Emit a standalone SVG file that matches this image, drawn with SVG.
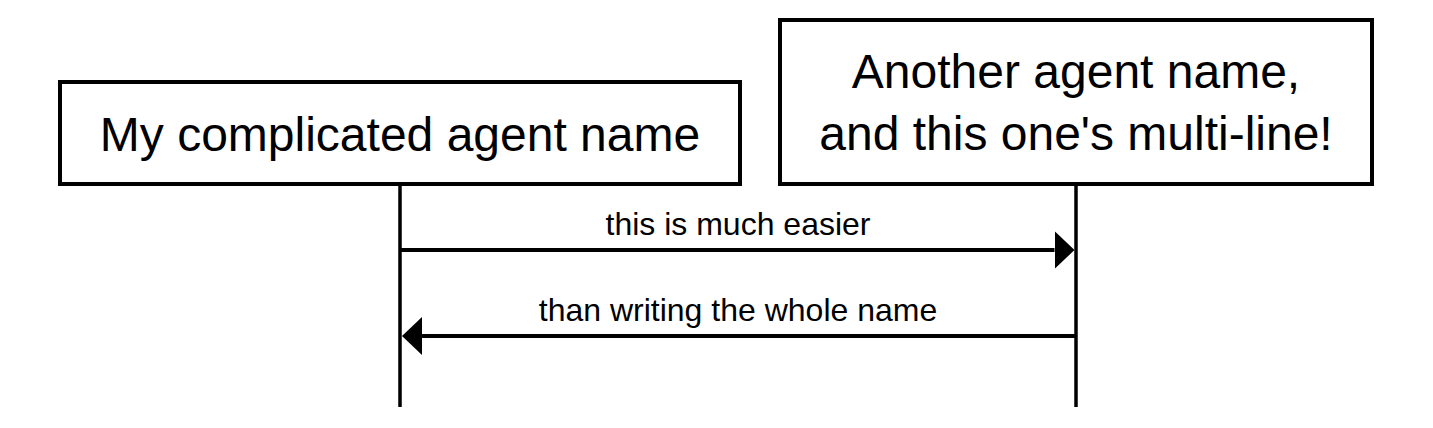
<svg xmlns="http://www.w3.org/2000/svg" width="1433" height="428" viewBox="0 0 1433 428">
<style>
  .box { fill: #fff; stroke: #000; stroke-width: 4; }
  .life { stroke: #000; stroke-width: 3.5; fill: none; }
  .msg { stroke: #000; stroke-width: 4; fill: none; }
  .agent { font-family: "Liberation Sans", Arial, Helvetica, sans-serif; font-size: 48px; fill: #000; text-anchor: middle; }
  .label { font-family: "Liberation Sans", Arial, Helvetica, sans-serif; font-size: 32px; fill: #000; text-anchor: middle; }
</style>
<defs>
  <marker id="head" markerUnits="userSpaceOnUse" markerWidth="20" markerHeight="38" refX="0" refY="19" orient="auto" viewBox="0 0 20 38">
    <path d="M0,0 L20,19 L0,38 Z" fill="#000"/>
  </marker>
</defs>
<rect width="1433" height="428" fill="#fff"/>
<g id="connectors">
  <line class="life" x1="400" y1="184" x2="400" y2="407"/>
  <line class="life" x1="1076" y1="184" x2="1076" y2="407"/>
  <line class="msg" x1="400" y1="250" x2="1054.5" y2="250" marker-end="url(#head)"/>
  <text class="label" x="738" y="235">this is much easier</text>
  <line class="msg" x1="1076" y1="336" x2="422" y2="336" marker-end="url(#head)"/>
  <text class="label" x="738" y="320.5">than writing the whole name</text>
</g>
<g id="agent-a">
  <rect class="box" x="60" y="82" width="680" height="102"/>
  <text class="agent" x="400" y="150.5">My complicated agent name</text>
</g>
<g id="agent-b">
  <rect class="box" x="780" y="20" width="592" height="164"/>
  <text class="agent" x="1076" y="88.3">Another agent name,</text>
  <text class="agent" x="1076" y="150">and this one's multi-line!</text>
</g>
</svg>
